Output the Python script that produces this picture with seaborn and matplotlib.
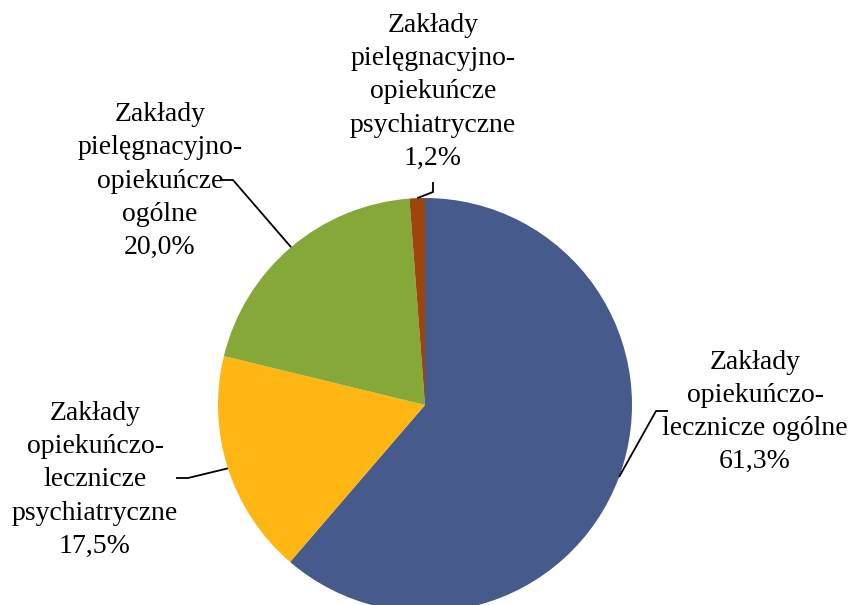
import numpy as np
import matplotlib.pyplot as plt
import seaborn as sns

# dane: struktura zakładów (kolejność zgodnie z ruchem wskazówek zegara od góry)
categories = [
    "Zakłady\nopiekuńczo-\nlecznicze ogólne",
    "Zakłady\nopiekuńczo-\nlecznicze\npsychiatryczne",
    "Zakłady\npielęgnacyjno-\nopiekuńcze\nogólne",
    "Zakłady\npielęgnacyjno-\nopiekuńcze\npsychiatryczne",
]
shares = [61.3, 17.5, 20.0, 1.2]
colors = ["#465A8C", "#FDB612", "#86A838", "#9C460C"]

sns.set_theme(style="white")
plt.rcParams["font.family"] = ["Liberation Serif", "DejaVu Serif"]

W, H = 848, 605
fig = plt.figure(figsize=(W / 100, H / 100), dpi=100)
ax = fig.add_axes([0, 0, 1, 1])

cx, cy, r = 425, H - 405, 207
wedges, _ = ax.pie(shares, colors=colors, startangle=90, counterclock=False,
                   center=(cx, cy), radius=r, frame=True,
                   wedgeprops=dict(linewidth=0))
ax.set_xlim(0, W)
ax.set_ylim(0, H)
ax.set_aspect("equal")
ax.axis("off")

# pozycje etykiet (px od góry), łamanie linii odnośnika
label_pos = [(755, 412), (95, 480), (160, 181), (433, 92)]
elbows = [((656, 411), (668, 411)),
          ((188, 478), (176, 478)),
          ((233, 180), (220, 180)),
          ((433, 192), (433, 182))]

for w, lab, val, (lx, ly), (e1, e2) in zip(wedges, categories, shares, label_pos, elbows):
    ang = np.deg2rad((w.theta1 + w.theta2) / 2)
    px, py = cx + r * np.cos(ang), cy + r * np.sin(ang)
    ax.plot([px, e1[0], e2[0]], [py, H - e1[1], H - e2[1]], color="black", lw=1.3,
            solid_capstyle="butt")
    txt = lab + "\n" + f"{val:.1f}%".replace(".", ",")
    ax.text(lx, H - ly, txt, ha="center", va="center", fontsize=20,
            linespacing=1.43, color="black")

fig.savefig("out.png", dpi=100)
